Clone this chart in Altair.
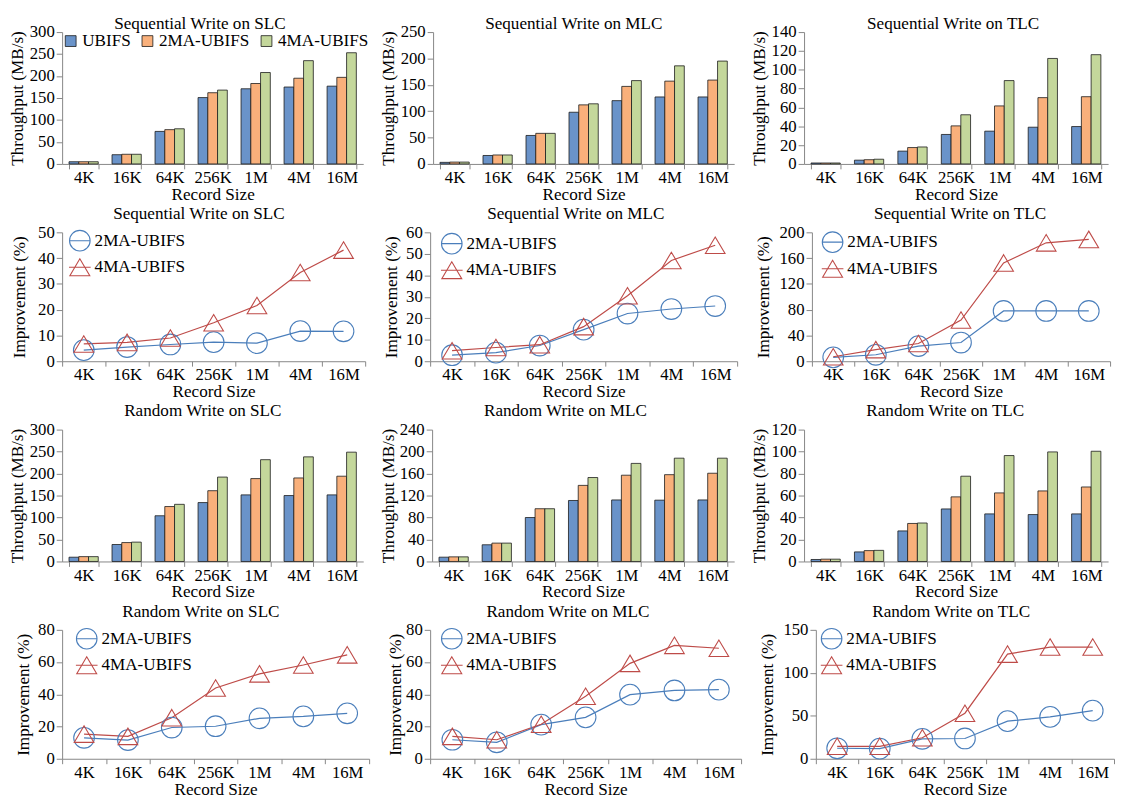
import altair as alt
import pandas as pd

sizes = ["4K", "16K", "64K", "256K", "1M", "4M", "16M"]
systems = ["UBIFS", "2MA-UBIFS", "4MA-UBIFS"]
ma_systems = ["2MA-UBIFS", "4MA-UBIFS"]

# Throughput (MB/s)
seq_slc_ubifs = [5, 21, 74, 151, 171, 175, 177]
seq_slc_2ma = [5, 22, 78, 162, 183, 195, 197]
seq_slc_4ma = [5, 22, 80, 168, 208, 235, 253]

seq_mlc_ubifs = [3, 16, 54, 98, 120, 127, 127]
seq_mlc_2ma = [3.5, 17, 58, 112, 147, 157, 159]
seq_mlc_4ma = [3.5, 17, 58, 114, 158, 186, 195]

seq_tlc_ubifs = [1, 4, 13.6, 31.3, 34.8, 39, 39.7]
seq_tlc_2ma = [1, 4.5, 17.4, 40.4, 61.6, 70.4, 71.4]
seq_tlc_4ma = [1, 5, 18, 52.2, 88.5, 112, 116]

rnd_slc_ubifs = [9.7, 38.6, 104, 134, 151.5, 150, 151.5]
rnd_slc_2ma = [11, 43, 125, 161, 188.6, 190, 194]
rnd_slc_4ma = [11, 44, 130, 192, 231.6, 238, 248.7]

rnd_mlc_ubifs = [7.8, 30.4, 80, 111, 112, 111.6, 112]
rnd_mlc_2ma = [8.4, 33.4, 96, 138.5, 157, 158, 160.6]
rnd_mlc_4ma = [8.4, 33.4, 96, 152.8, 178.5, 188, 188]

rnd_tlc_ubifs = [1.8, 8.7, 27.8, 47.8, 43.3, 42.7, 43.3]
rnd_tlc_2ma = [2.1, 9.9, 34.6, 58.8, 62.4, 64.2, 67.8]
rnd_tlc_4ma = [2.1, 10.1, 35, 77.6, 96.4, 99.7, 100.3]

# Improvement (%)
seq_slc_imp_2ma = [4.3, 5.5, 6.5, 7.4, 7.0, 11.7, 11.6]
seq_slc_imp_4ma = [6.7, 7.3, 9.0, 14.9, 21.6, 34.4, 43.1]
seq_mlc_imp_2ma = [2.8, 4.0, 7.3, 14.7, 22.2, 24.3, 25.7]
seq_mlc_imp_4ma = [4.9, 6.4, 7.7, 16.1, 30.5, 46.9, 54.0]
seq_tlc_imp_2ma = [6, 10, 23.5, 29, 78, 78, 78]
seq_tlc_imp_4ma = [7, 18, 27.5, 64, 152.5, 183.7, 189]
rnd_slc_imp_2ma = [13, 11.6, 19.4, 20.2, 25.1, 26.3, 28.2]
rnd_slc_imp_4ma = [15.3, 13.9, 25.5, 43.9, 52.7, 58.2, 64.5]
rnd_mlc_imp_2ma = [11.8, 10.2, 21.2, 25.7, 39.8, 42.4, 42.9]
rnd_mlc_imp_4ma = [13.9, 11.8, 21.4, 38.8, 59.2, 70.4, 68.6]
rnd_tlc_imp_2ma = [12.2, 11.8, 23.2, 23.6, 43.8, 48.7, 56]
rnd_tlc_imp_4ma = [14.5, 14.5, 24.4, 53, 121.8, 130, 130]

# y-axis tick values
ticks_300 = [0, 50, 100, 150, 200, 250, 300]
ticks_250 = [0, 50, 100, 150, 200, 250]
ticks_140 = [0, 20, 40, 60, 80, 100, 120, 140]
ticks_50 = [0, 10, 20, 30, 40, 50]
ticks_60 = [0, 10, 20, 30, 40, 50, 60]
ticks_200 = [0, 40, 80, 120, 160, 200]
ticks_240 = [0, 40, 80, 120, 160, 200, 240]
ticks_120 = [0, 20, 40, 60, 80, 100, 120]
ticks_80 = [0, 20, 40, 60, 80]
ticks_150 = [0, 50, 100, 150]

bar_colors = ["#6A93C9", "#F9B07B", "#C4D79B"]
line_colors = ["#4A7EBB", "#BE4B48"]

FONT = "Liberation Serif"
FS = 17
FS_T = 17.4

circle_legend = "M-1,0L1,0M0.95,0A0.95,0.95,0,1,1,-0.95,0A0.95,0.95,0,1,1,0.95,0Z"
triangle_legend = "M-1,0L1,0M0,-0.78L0.92,0.78L-0.92,0.78Z"
triangle_marker = "M0,-0.8L0.95,0.8L-0.95,0.8Z"


def title_params(text, dx, offset):
    return alt.TitleParams(text, font=FONT, fontSize=FS_T, fontWeight="normal",
                           frame="group", anchor="middle", dx=dx, offset=offset,
                           baseline="alphabetic", color="black")


def x_axis():
    return alt.Axis(title="Record Size", labelAngle=0, tickBand="extent",
                    tickSize=5, labelPadding=1, titlePadding=0)


def y_axis(title, yticks, ext):
    return alt.Axis(title=title, values=yticks, tickSize=6, labelPadding=2,
                    titlePadding=3, minExtent=ext, maxExtent=ext)


def bar_panel(title, a, b, c, ymax, yticks, width, height, lx, dx, toff, ext):
    df = pd.DataFrame({
        "size": sizes * 3,
        "system": [systems[0]] * 7 + [systems[1]] * 7 + [systems[2]] * 7,
        "value": a + b + c,
    })
    return alt.Chart(df).mark_bar(stroke="#1a1a1a", strokeWidth=0.8).encode(
        x=alt.X("size:N", sort=sizes,
                scale=alt.Scale(paddingInner=0.32, paddingOuter=0.16),
                axis=x_axis()),
        xOffset=alt.XOffset("system:N", sort=systems,
                            scale=alt.Scale(paddingInner=0, paddingOuter=0)),
        y=alt.Y("value:Q", scale=alt.Scale(domain=[0, ymax], nice=False),
                axis=y_axis("Throughput (MB/s)", yticks, ext)),
        color=alt.Color("system:N", sort=systems,
                        scale=alt.Scale(domain=systems, range=bar_colors),
                        legend=alt.Legend(orient="none", direction="horizontal",
                                          legendX=lx, legendY=0, title=None,
                                          symbolType="square", symbolSize=121,
                                          symbolStrokeColor="#1a1a1a",
                                          symbolStrokeWidth=0.8,
                                          labelOffset=3, columnPadding=8,
                                          padding=0)),
    ).properties(width=width, height=height, title=title_params(title, dx, toff))


def line_panel(title, a, b, ymax, yticks, width, height, lx, ly, dx, toff, ext):
    df = pd.DataFrame({
        "size": sizes * 2,
        "system": [ma_systems[0]] * 7 + [ma_systems[1]] * 7,
        "value": a + b,
    })
    xenc = alt.X("size:N", sort=sizes, bandPosition=0.5,
                 scale=alt.Scale(type="band", paddingInner=0, paddingOuter=0),
                 axis=x_axis())
    yenc = alt.Y("value:Q", scale=alt.Scale(domain=[0, ymax], nice=False),
                 axis=y_axis("Improvement (%)", yticks, ext))
    cscale = alt.Scale(domain=ma_systems, range=line_colors)
    line = alt.Chart(df).mark_line(strokeWidth=1.2).encode(
        x=xenc, y=yenc,
        color=alt.Color("system:N", scale=cscale, legend=None))
    pts = alt.Chart(df).mark_point(filled=False, size=441, strokeWidth=1.1,
                                   opacity=1).encode(
        x=xenc, y=yenc,
        color=alt.Color("system:N", scale=cscale, legend=None),
        shape=alt.Shape("system:N", scale=alt.Scale(domain=ma_systems,
                                                     range=["circle", triangle_marker]),
                        legend=None))
    leg_def = dict(orient="none", legendX=lx, legendY=ly, title=None,
                   symbolSize=484, symbolStrokeWidth=1.1, labelOffset=3,
                   rowPadding=2, padding=0, direction="vertical")
    leg = alt.Chart(df).transform_filter("datum.value < -1000").mark_point(
        filled=False, strokeWidth=1.1, opacity=1).encode(
        color=alt.Color("system:N", scale=cscale, legend=alt.Legend(**leg_def)),
        shape=alt.Shape("system:N", scale=alt.Scale(domain=ma_systems,
                                                     range=[circle_legend, triangle_legend]),
                        legend=alt.Legend(**leg_def)))
    return alt.layer(line, pts, leg).resolve_scale(
        color="independent", shape="independent"
    ).properties(width=width, height=height, title=title_params(title, dx, toff))


T1 = -23
T = -13

row1 = alt.hconcat(
    bar_panel("Sequential Write on SLC", seq_slc_ubifs, seq_slc_2ma, seq_slc_4ma,
              300, ticks_300, 306, 134, 0, -13, T1, 33),
    bar_panel("Sequential Write on MLC", seq_mlc_ubifs, seq_mlc_2ma, seq_mlc_4ma,
              250, ticks_250, 306, 134, 3, -10, T1, 33),
    bar_panel("Sequential Write on TLC", seq_tlc_ubifs, seq_tlc_2ma, seq_tlc_4ma,
              140, ticks_140, 309, 134, 9, -3, T1, 33),
    spacing=16,
)
row2 = alt.hconcat(
    line_panel("Sequential Write on SLC", seq_slc_imp_2ma, seq_slc_imp_4ma,
               50, ticks_50, 308, 131, 6, -3.5, -15, T, 31),
    line_panel("Sequential Write on MLC", seq_mlc_imp_2ma, seq_mlc_imp_4ma,
               60, ticks_60, 312, 131, 10, -0.5, -8, T, 27),
    line_panel("Sequential Write on TLC", seq_tlc_imp_2ma, seq_tlc_imp_4ma,
               200, ticks_200, 303, 131, 9, -2, -1, T, 37),
    spacing=16,
)
row3 = alt.hconcat(
    bar_panel("Random Write on SLC", rnd_slc_ubifs, rnd_slc_2ma, rnd_slc_4ma,
              300, ticks_300, 306, 134, 3, -10, T, 33),
    bar_panel("Random Write on MLC", rnd_mlc_ubifs, rnd_mlc_2ma, rnd_mlc_4ma,
              240, ticks_240, 307, 134, 1, -18, T, 32),
    bar_panel("Random Write on TLC", rnd_tlc_ubifs, rnd_tlc_2ma, rnd_tlc_4ma,
              120, ticks_120, 309, 134, 7, -11, T, 33),
    spacing=16,
)
row4 = alt.hconcat(
    line_panel("Random Write on SLC", rnd_slc_imp_2ma, rnd_slc_imp_4ma,
               80, ticks_80, 312, 131, 13, -3, -15, T, 27),
    line_panel("Random Write on MLC", rnd_mlc_imp_2ma, rnd_mlc_imp_4ma,
               80, ticks_80, 316, 131, 10, -3, -18, T, 23),
    line_panel("Random Write on TLC", rnd_tlc_imp_2ma, rnd_tlc_imp_4ma,
               150, ticks_150, 303, 131, 4, -3, -14, T, 37),
    spacing=16,
)

chart = alt.vconcat(row1, row2, row3, row4, spacing=1.5).properties(
    padding={"left": 0, "top": 0, "right": 0, "bottom": 0}
).configure(font=FONT).configure_view(stroke=None).configure_axis(
    labelFont=FONT, titleFont=FONT, labelFontSize=FS, titleFontSize=FS_T,
    titleFontWeight="normal", labelColor="black", titleColor="black",
    domainColor="#868686", tickColor="#868686", grid=False,
).configure_legend(labelFont=FONT, labelFontSize=FS_T, labelColor="black")

chart.save("out.html", embed_options={"renderer": "svg", "actions": False})
